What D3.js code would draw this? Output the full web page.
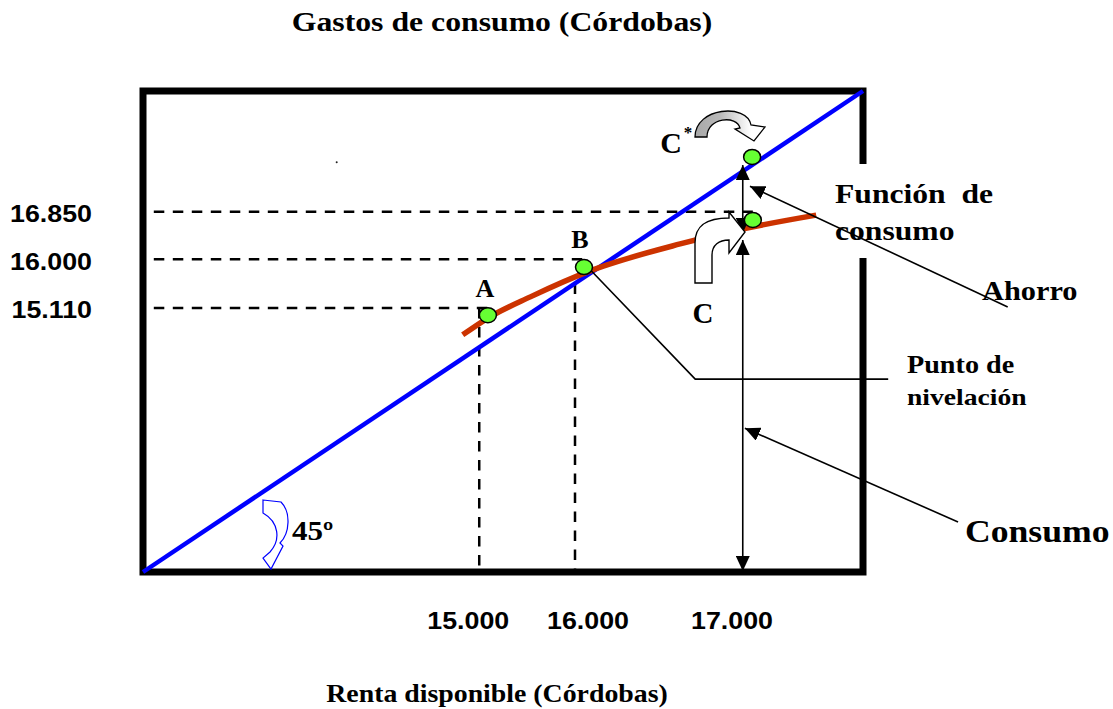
<!DOCTYPE html>
<html>
<head>
<meta charset="utf-8">
<script src="https://cdn.jsdelivr.net/npm/d3@7"></script>
<style>
  body { margin: 0; background: #fff; }
  text { white-space: pre; }
</style>
</head>
<body>
<svg id="chart"></svg>
<script>
// Diagram values, in diagram units (frame runs 0..100 on both axes)
const incomeLabels = ["15.000", "16.000", "17.000"];
const incomeAt     = [46.7, 60.0, 83.2];
const spendLabels  = ["16.850", "16.000", "15.110"];
const spendAt      = [74.9, 65.0, 54.9];
// 45 degree line, y = x
const diagX = [0, 100];
const diagY = [0, 100];
// consumption function
const consX = [44.4, 47.9, 53.8, 62.1, 74.6, 83.2, 93.5];
const consY = [49.3, 52.8, 57.2, 62.6, 68.2, 71.3, 74.2];
// marked points
const pointNames = ["A", "B", "C", "C*"];
const pointX     = [47.9, 61.25, 84.7, 84.6];
const pointY     = [53.4, 63.4, 73.2, 86.3];
// vertical dashed lines start (top) values
const vDashTop = [54.9, 60.0];
// ahorro / consumo spans on the 17.000 income
const spanX     = 83.3;
const ahorroY   = [84.6, 70.5];
const consumoY  = [69.0, 0.2];

const W = 1113, H = 709;
const serif = "'Liberation Serif', 'Times New Roman', serif";
const sans = "'Liberation Sans', Arial, sans-serif";
const sx = 1.15; // text is drawn a little wide

let svg = d3.select("#chart")
    .attr("width", W)
    .attr("height", H);

let x = d3.scaleLinear().domain([0, 100]).range([143, 863]);
let y = d3.scaleLinear().domain([0, 100]).range([572, 91]);

let defs = svg.append("defs");
defs.append("marker")
    .attr("id", "head")
    .attr("markerUnits", "userSpaceOnUse")
    .attr("markerWidth", 15)
    .attr("markerHeight", 14)
    .attr("refX", 15)
    .attr("refY", 7)
    .attr("orient", "auto-start-reverse")
    .append("path")
        .attr("d", "M0,0 L15,7 L0,14 Z")
        .attr("fill", "#000");
let grad = defs.append("linearGradient")
    .attr("id", "greyArc")
    .attr("x1", 0).attr("x2", 1).attr("y1", 0).attr("y2", 0);
grad.append("stop").attr("offset", "0%").attr("stop-color", "#a8a8a8");
grad.append("stop").attr("offset", "35%").attr("stop-color", "#b8b8b8");
grad.append("stop").attr("offset", "80%").attr("stop-color", "#fff");

function label (txt, px, py, size, opts = {}) {
    let t = svg.append("text")
        .attr("transform", "translate(" + px + "," + py + ") scale(" + (opts.sx ?? sx) + ",1)")
        .attr("text-anchor", opts.anchor || "start")
        .style("font-family", opts.font || serif)
        .style("font-weight", "bold")
        .style("font-size", size + "px")
        .attr("fill", "#000")
        .text(txt);
    return t;
}

// Dashed guide lines
let dashStyle = sel => sel
    .attr("stroke", "#000")
    .attr("stroke-width", 2.5)
    .attr("stroke-dasharray", "10.5,8.5")
    .attr("fill", "none");
// horizontal, each ends at its point (C, B, A)
let hEnds = [pointX[2], pointX[1], pointX[0]];
svg.selectAll(".hDash")
    .data(spendAt)
    .join("line")
        .attr("class", "hDash")
        .attr("x1", x(1.5))
        .attr("x2", (d, i) => x(hEnds[i]))
        .attr("y1", d => y(d))
        .attr("y2", d => y(d))
        .call(dashStyle);
svg.selectAll(".vDash")
    .data(vDashTop)
    .join("line")
        .attr("class", "vDash")
        .attr("x1", (d, i) => x(incomeAt[i]))
        .attr("x2", (d, i) => x(incomeAt[i]))
        .attr("y1", d => y(d))
        .attr("y2", y(0))
        .call(dashStyle);

// Frame
svg.append("rect")
    .attr("x", x(0))
    .attr("y", y(100))
    .attr("width", x(100) - x(0))
    .attr("height", y(0) - y(100))
    .attr("fill", "none")
    .attr("stroke", "#000")
    .attr("stroke-width", 7);

// stray dot in the original
svg.append("circle")
    .attr("cx", x(26.9)).attr("cy", y(85.2)).attr("r", 1)
    .attr("fill", "#222");

// 45 degree line
svg.append("path")
    .datum(diagX.map((v, i) => [v, diagY[i]]))
    .attr("d", d3.line().x(d => x(d[0])).y(d => y(d[1])))
    .attr("stroke", "#0000ff")
    .attr("stroke-width", 4.5)
    .attr("fill", "none");

// Consumption function
svg.append("path")
    .datum(consX.map((v, i) => [v, consY[i]]))
    .attr("d", d3.line().curve(d3.curveMonotoneX).x(d => x(d[0])).y(d => y(d[1])))
    .attr("stroke", "#cc3300")
    .attr("stroke-width", 5.5)
    .attr("fill", "none");

// white box behind "Función de consumo"
svg.append("rect")
    .attr("x", 828).attr("y", 164)
    .attr("width", 172).attr("height", 94)
    .attr("fill", "#fff");

// Ahorro / consumo double arrows
svg.selectAll(".span")
    .data([ahorroY, consumoY])
    .join("line")
        .attr("class", "span")
        .attr("x1", x(spanX))
        .attr("x2", x(spanX))
        .attr("y1", d => y(d[0]))
        .attr("y2", d => y(d[1]))
        .attr("stroke", "#000")
        .attr("stroke-width", 1.6)
        .attr("marker-start", "url(#head)")
        .attr("marker-end", "url(#head)");

// Leader lines from the side labels
let leaders = [
    [[120.1, 55.1], [84.3, 80.2]],   // Ahorro
    [[113.2, 10.4], [83.6, 29.9]]    // Consumo
];
svg.selectAll(".leader")
    .data(leaders)
    .join("line")
        .attr("class", "leader")
        .attr("x1", d => x(d[0][0]))
        .attr("y1", d => y(d[0][1]))
        .attr("x2", d => x(d[1][0]))
        .attr("y2", d => y(d[1][1]))
        .attr("stroke", "#000")
        .attr("stroke-width", 1.6)
        .attr("marker-end", "url(#head)");
// Punto de nivelación leader, from B
svg.append("path")
    .datum([[pointX[1] + 0.9, 62.8], [76.7, 40.1], [103.5, 40.1]])
    .attr("d", d3.line().x(d => x(d[0])).y(d => y(d[1])))
    .attr("stroke", "#000")
    .attr("stroke-width", 1.6)
    .attr("fill", "none");

// Block arrow next to C (white, bent up and right)
svg.append("path")
    .attr("transform", "translate(695,283)")
    .attr("d", "M0,0 L0,-40 C0,-58 12,-65 34,-65 L34,-71 L50,-51 L34,-30 L34,-43 C24,-43 17,-38 17,-28 L17,0 Z")
    .attr("fill", "#fff")
    .attr("stroke", "#000")
    .attr("stroke-width", 1.4);

// Curved arrow next to C* (grey)
svg.append("path")
    .attr("transform", "translate(727,137)")
    .attr("d", "M-32,0 C-32,-30 20,-34 24,-12 L38,-10 L27,4 L8,-8 L13,-9 C10,-22 -20,-20 -20,0 Z")
    .attr("fill", "url(#greyArc)")
    .attr("stroke", "#000")
    .attr("stroke-width", 1.3);

// 45 degree curved arrow (blue outline)
svg.append("path")
    .attr("transform", "translate(263,500)")
    .attr("d", "M0,0 L18,2 C28,12 27,33 17,43 L20,46 L8,69 L0,58 L7,52 C18,40 16,22 0,13 Z")
    .attr("fill", "none")
    .attr("stroke", "#0000ff")
    .attr("stroke-width", 1.2);

// Points
svg.selectAll(".pt")
    .data(pointNames)
    .join("ellipse")
        .attr("class", "pt")
        .attr("cx", (d, i) => x(pointX[i]))
        .attr("cy", (d, i) => y(pointY[i]))
        .attr("rx", 8.5)
        .attr("ry", 7.5)
        .attr("fill", "#66ff33")
        .attr("stroke", "#000")
        .attr("stroke-width", 1.5);

// Point letters
label("A", 485, 297, 26, {anchor: "middle", sx: 1});
label("B", 580, 248, 26, {anchor: "middle", sx: 1});
label("C", 703, 323, 29, {anchor: "middle", sx: 1});
label("C", 671, 153, 30, {anchor: "middle", sx: 1});
label("*", 688, 138, 17, {anchor: "middle", sx: 1});

// Tick labels
let incomeShift = [-11, 13, -10];
incomeLabels.forEach((t, i) => label(t, x(incomeAt[i]) + incomeShift[i], 629, 23.3, {anchor: "middle", font: sans}));
spendLabels.forEach((t, i) => label(t, 92, y(spendAt[i]) + 10.5, 23.3, {anchor: "end", font: sans}));

// Annotations
label("Función  de", 835, 203, 27.5);
label("consumo", 835, 240, 27.5);
label("Ahorro", 982, 300, 26.4);
label("Punto de", 907, 373, 24.5);
label("nivelación", 907, 405, 24);
label("Consumo", 965, 542, 31);
label("45º", 292, 540, 27);

// Axis titles
label("Gastos de consumo (Córdobas)", 502, 31, 27.6, {anchor: "middle"});
label("Renta disponible (Córdobas)", 497, 702, 24.2, {anchor: "middle"});
</script>
</body>
</html>
